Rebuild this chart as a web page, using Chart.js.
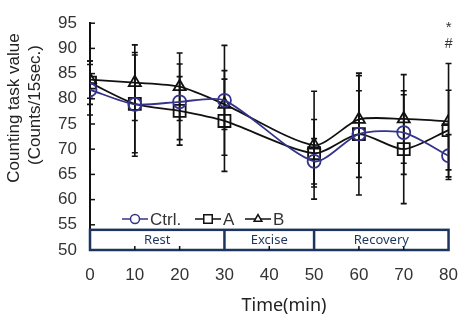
<!DOCTYPE html>
<html>
<head>
<meta charset="utf-8">
<script src="https://cdn.jsdelivr.net/npm/chart.js@4"></script>
<style>
    html, body { margin: 0; padding: 0; background: #fff; }
    #wrap { width: 473px; height: 323px; }
</style>
</head>
<body>
<div id="wrap"><canvas id="grafico" width="473" height="323"></canvas></div>
<script>
// tiempos (min) y valores
const tiempos = [0, 10, 20, 30, 50, 60, 70, 80];
const ctrlMedia = [81.8, 78.9, 79.4, 79.7, 67.6, 73.0, 73.3, 68.7];
const aMedia = [83.2, 79.0, 77.6, 75.6, 69.2, 73.0, 70.0, 73.8];
const bMedia = [83.8, 83.2, 82.4, 78.9, 70.8, 75.9, 76.0, 75.5];
const ctrlDE = [5.0, 10.3, 7.5, 10.9, 4.5, 8.6, 8.3, 4.2];
const aDE = [4.3, 9.7, 6.8, 10.0, 6.7, 12.1, 10.8, 7.9];
const bDE = [3.7, 7.5, 6.7, 5.0, 10.7, 8.7, 8.8, 11.5];
const yTicks = [50, 55, 60, 65, 70, 75, 80, 85, 90, 95];
const xTicks = [0, 10, 20, 30, 40, 50, 60, 70, 80];
const fases = ['Rest', 'Excise', 'Recovery'];
const faseLimites = [0, 30, 50, 80];
const nombres = ['Ctrl.', 'A', 'B'];

const AZUL = '#34348a';
const MARINO = '#1c355e';
const fuente = "'Liberation Sans', Arial, sans-serif";

function puntos(medias) {
    return tiempos.map((t, i) => ({ x: t, y: medias[i] }));
}

const series = [
    { media: ctrlMedia, de: ctrlDE, color: AZUL, estilo: 'circle' },
    { media: aMedia, de: aDE, color: '#111', estilo: 'rect' },
    { media: bMedia, de: bDE, color: '#111', estilo: 'triangle' }
];

const extras = {
    id: 'extras',
    beforeDatasetsDraw(chart) {
        const { ctx, scales: { x, y } } = chart;
        ctx.save();
        ctx.strokeStyle = '#111';
        ctx.lineWidth = 1.6;
        series.forEach(s => {
            tiempos.forEach((t, i) => {
                const px = x.getPixelForValue(t);
                const arriba = y.getPixelForValue(s.media[i] + s.de[i]);
                const abajo = y.getPixelForValue(s.media[i] - s.de[i]);
                ctx.beginPath();
                ctx.moveTo(px, arriba); ctx.lineTo(px, abajo);
                ctx.moveTo(px - 3, arriba); ctx.lineTo(px + 3, arriba);
                ctx.moveTo(px - 3, abajo); ctx.lineTo(px + 3, abajo);
                ctx.stroke();
            });
        });
        ctx.restore();
    },
    afterDraw(chart) {
        const { ctx, scales: { x, y } } = chart;
        ctx.save();

        // ticks hacia dentro del eje y
        ctx.strokeStyle = '#111';
        ctx.lineWidth = 1.5;
        yTicks.forEach(v => {
            const py = y.getPixelForValue(v);
            ctx.beginPath();
            ctx.moveTo(x.left, py); ctx.lineTo(x.left + 5, py);
            ctx.stroke();
        });

        // caja de fases
        const yArriba = y.getPixelForValue(54);
        const yAbajo = y.getPixelForValue(50);
        const x0 = x.getPixelForValue(0), x80 = x.getPixelForValue(80);
        ctx.fillStyle = '#fff';
        ctx.fillRect(x0, yArriba, x80 - x0, yAbajo - yArriba);
        ctx.strokeStyle = MARINO;
        ctx.lineWidth = 2.5;
        ctx.strokeRect(x0, yArriba, x80 - x0, yAbajo - yArriba);
        ctx.beginPath();
        [30, 50].forEach(v => {
            const px = x.getPixelForValue(v);
            ctx.moveTo(px, yArriba); ctx.lineTo(px, yAbajo);
        });
        ctx.stroke();

        ctx.strokeStyle = '#111';
        ctx.lineWidth = 1.5;
        xTicks.forEach(v => {
            if (faseLimites.includes(v)) return;
            const px = x.getPixelForValue(v);
            ctx.beginPath();
            ctx.moveTo(px, yAbajo); ctx.lineTo(px, yAbajo - 4);
            ctx.stroke();
        });

        ctx.fillStyle = MARINO;
        ctx.font = "13px 'Noto Sans', sans-serif";
        ctx.textAlign = 'center';
        ctx.textBaseline = 'middle';
        fases.forEach((f, i) => {
            const cx = x.getPixelForValue((faseLimites[i] + faseLimites[i + 1]) / 2);
            ctx.fillText(f, cx, (yArriba + yAbajo) / 2);
        });

        // leyenda dentro del area
        const ly = 219;
        const posiciones = [122, 195, 245];
        ctx.font = '17px ' + fuente;
        ctx.textAlign = 'left';
        series.forEach((s, i) => {
            const lx = posiciones[i];
            ctx.strokeStyle = s.color;
            ctx.lineWidth = 1.5;
            ctx.beginPath();
            ctx.moveTo(lx, ly); ctx.lineTo(lx + 26, ly);
            ctx.stroke();
            ctx.fillStyle = '#fff';
            Chart.helpers.drawPoint(ctx, { pointStyle: s.estilo, radius: s.estilo === 'rect' ? 6 : 4.5, borderWidth: 1.3 }, lx + 13, ly);
            ctx.fillStyle = '#333';
            ctx.fillText(nombres[i], lx + 28, ly + 1);
        });

        // marcas de significancia
        ctx.fillStyle = '#333';
        ctx.textAlign = 'center';
        ctx.font = '15px ' + fuente;
        const p80 = x.getPixelForValue(80);
        ctx.fillText('*', p80, 28);
        ctx.font = '14px ' + fuente;
        ctx.fillText('#', p80, 44);

        // titulos de ejes
        ctx.fillStyle = '#222';
        ctx.font = '17px ' + fuente;
        ctx.translate(14, 108);
        ctx.rotate(-Math.PI / 2);
        ctx.fillText('Counting task value', 0, 0);
        ctx.fillText('(Counts/15sec.)', 3, 21);
        ctx.setTransform(1, 0, 0, 1, 0, 0);
        ctx.font = "18px 'Noto Sans', sans-serif";
        ctx.fillText('Time(min)', 284, 306);

        ctx.restore();
    }
};

new Chart(document.getElementById('grafico'), {
    type: 'line',
    data: {
        datasets: series.map((s, i) => ({
            label: nombres[i],
            data: puntos(s.media),
            borderColor: s.color,
            borderWidth: 1.8,
            backgroundColor: 'rgba(255,255,255,0)',
            pointStyle: s.estilo,
            pointRadius: s.estilo === 'rect' ? 8.5 : (s.estilo === 'triangle' ? 7 : 6.5),
            pointBorderWidth: 1.8,
            pointBorderColor: s.color,
            pointBackgroundColor: 'rgba(255,255,255,0)',
            tension: 0.25,
            fill: false
        }))
    },
    options: {
        responsive: false,
        animation: false,
        layout: { padding: { top: 13, right: 19, left: 0, bottom: 0 } },
        plugins: {
            legend: { display: false },
            tooltip: { enabled: false }
        },
        scales: {
            x: {
                type: 'linear',
                min: 0,
                max: 80,
                afterFit: s => { s.height = 73; },
                afterBuildTicks: s => { s.ticks = xTicks.map(v => ({ value: v })); },
                grid: { display: false, drawTicks: false },
                border: { display: false },
                ticks: { padding: 15, color: '#333', font: { size: 17, family: fuente } }
            },
            y: {
                min: 50,
                max: 95,
                afterFit: s => { s.width = 90; },
                afterBuildTicks: s => { s.ticks = yTicks.map(v => ({ value: v })); },
                grid: { display: false, drawTicks: false },
                border: { display: true, color: '#111', width: 2 },
                ticks: { padding: 13, color: '#333', font: { size: 17, family: fuente } }
            }
        }
    },
    plugins: [extras]
});
</script>
</body>
</html>
